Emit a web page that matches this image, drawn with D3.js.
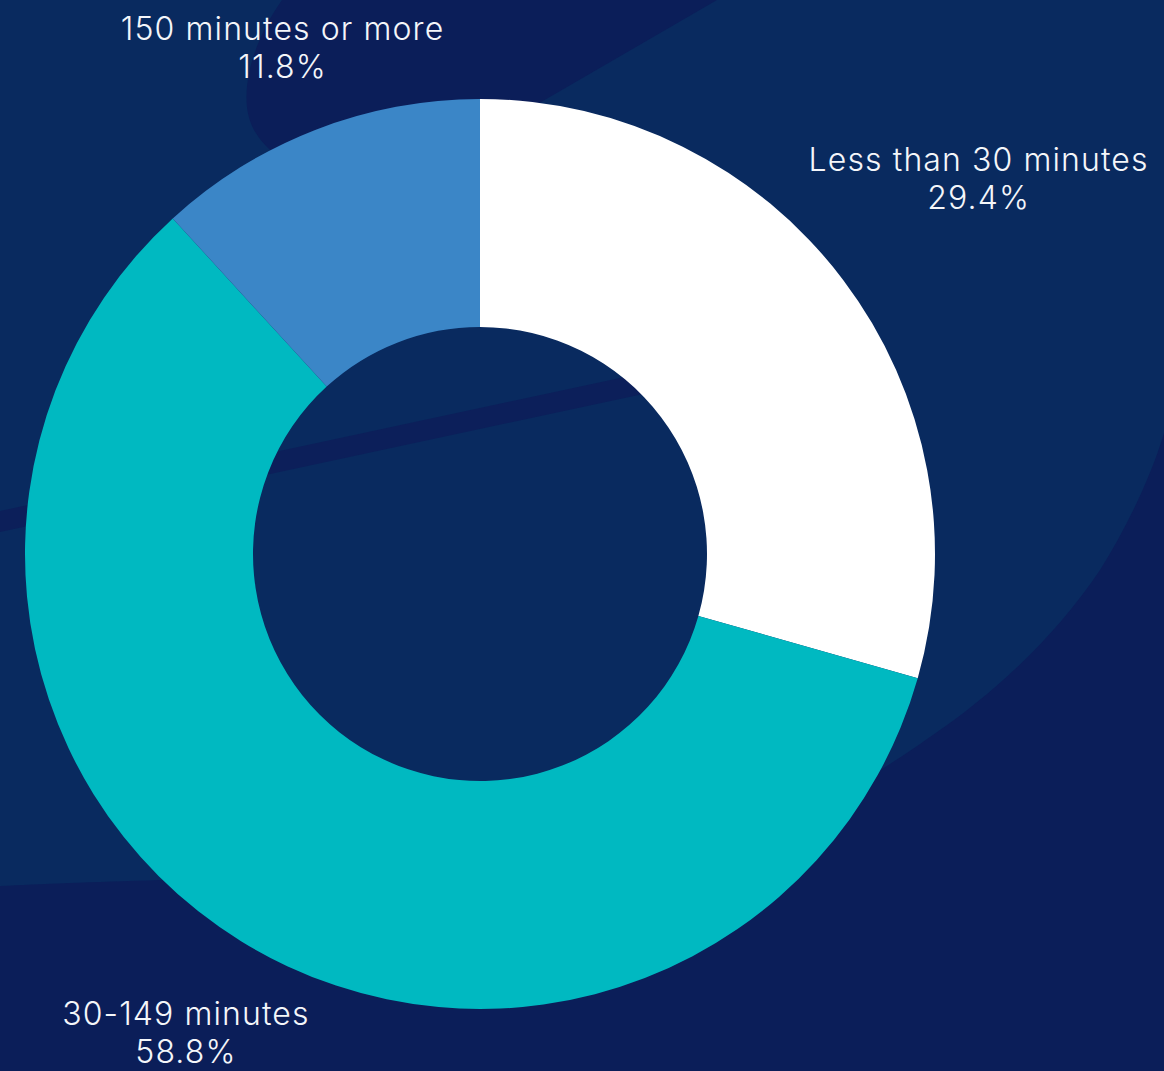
<!DOCTYPE html>
<html>
<head>
<meta charset="utf-8">
<script src="https://cdn.jsdelivr.net/npm/d3@7"></script>
<style>
  html, body { margin: 0; padding: 0; background: #092a5f; }
  svg { display: block; }
</style>
</head>
<body>
<svg id="chart" width="1164" height="1071"></svg>
<script>
// Weekly minutes of activity, share of respondents
const categories = ["Less than 30 minutes", "30-149 minutes", "150 minutes or more"];
const values = [29.4, 58.8, 11.8];
const valueLabels = ["29.4%", "58.8%", "11.8%"];
const colors = ["#ffffff", "#00b9c1", "#3b86c7"];

// Distance of each label block from the chart centre
const labelRadius = [625, 560, 545];

const W = 1164, H = 1071;
const cx = 480, cy = 554;
const outerR = 455, innerR = 227;

const svg = d3.select("#chart");

// ---- decorative background ----
const bg = svg.append("g");
bg.append("rect").attr("width", W).attr("height", H).attr("fill", "#092a5f");

// rounded band at the top
bg.append("path")
  .attr("fill", "#0b1e59")
  .attr("d", "M282,0 C252,42 236,98 254,130 C272,162 330,200 400,184 L717,0 Z");

// large dark sweep along the bottom and lower right
bg.append("path")
  .attr("fill", "#0b1e59")
  .attr("d", "M1164,433 C1150,480 1125,530 1100,570 C1060,630 1000,690 930,737 C880,772 800,830 600,860 " +
             "C420,875 250,876 160,880 C90,882 40,884 0,886 L0,1071 L1164,1071 Z");

// thin diagonal stripe
bg.append("path")
  .attr("fill", "#0c1f5a")
  .attr("d", "M0,511 L760,348 L760,369 L0,532 Z");

// ---- donut ----
const pie = d3.pie().sort(null).value(d => d.value);
const arc = d3.arc().innerRadius(innerR).outerRadius(outerR);

const data = categories.map((c, i) => ({ name: c, value: values[i], label: valueLabels[i], color: colors[i] }));
const arcs = pie(data);

const g = svg.append("g").attr("transform", `translate(${cx},${cy})`);

g.selectAll("path.slice")
  .data(arcs)
  .join("path")
  .attr("class", "slice")
  .attr("d", arc)
  .attr("fill", d => d.data.color);

// ---- labels ----
const labels = g.selectAll("text.label")
  .data(arcs)
  .join("text")
  .attr("class", "label")
  .attr("text-anchor", "middle")
  .attr("fill", "#f4f6fa")
  .style("font-family", "Inter, 'Open Sans', sans-serif")
  .style("font-size", "32px")
  .style("font-weight", 300)
  .style("letter-spacing", "1.1px")
  .attr("transform", (d, i) => {
    const a = (d.startAngle + d.endAngle) / 2;
    const r = labelRadius[i];
    return `translate(${Math.sin(a) * r},${-Math.cos(a) * r})`;
  });

labels.append("tspan").attr("x", 0).attr("y", -6).text(d => d.data.name);
labels.append("tspan").attr("x", 0).attr("y", 32).text(d => d.data.label);
</script>
</body>
</html>
